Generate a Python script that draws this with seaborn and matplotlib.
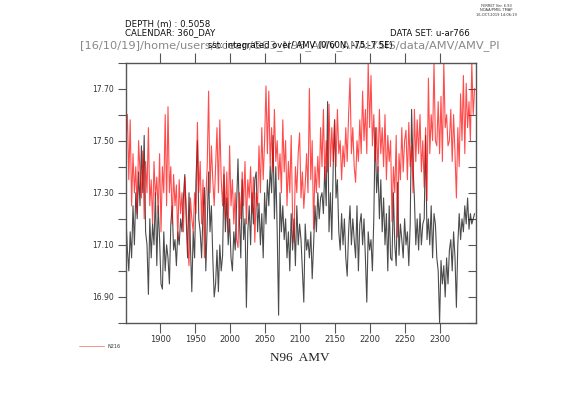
import numpy as np
import matplotlib
matplotlib.use("Agg")
import matplotlib.pyplot as plt
import seaborn as sns
from matplotlib.lines import Line2D

# two-yearly samples (1851..2349)
years = np.arange(1851, 2350, 2)

n216 = [
    17.50, 17.60, 17.35, 17.58, 17.25, 17.45, 17.30, 17.40, 17.22, 17.50,
    17.38, 17.28, 17.46, 17.20, 17.42, 17.30, 17.55, 17.25, 17.35, 17.18,
    17.42, 17.28, 17.36, 17.22, 17.45, 17.15, 17.40, 17.30, 17.60, 17.25,
    17.63, 17.30, 17.40, 17.18, 17.37, 17.25, 17.33, 17.12, 17.35, 17.22,
    17.30, 17.15, 17.36, 17.25, 17.10, 17.02, 17.28, 17.20, 17.15, 17.30,
    17.22, 17.57, 17.30, 17.42, 17.18, 17.35, 17.05, 17.28, 17.40, 17.69,
    17.30, 17.48, 17.35, 17.25, 17.40, 17.55, 17.30, 17.58, 17.35, 17.25,
    17.40, 17.20, 17.38, 17.15, 17.48, 17.25, 17.35, 17.18, 17.30, 17.12,
    17.09, 17.30, 17.20, 17.38, 17.25, 17.42, 17.18, 17.35, 17.28, 17.40,
    17.22, 17.36, 17.11, 17.30, 17.25, 17.48, 17.30, 17.55, 17.35, 17.50,
    17.71, 17.45, 17.69, 17.40, 17.55, 17.38, 17.62, 17.42, 17.50, 17.35,
    17.45, 17.30, 17.58, 17.38, 17.50, 17.25, 17.42, 17.30, 17.52, 17.20,
    17.11, 17.40, 17.30, 17.45, 17.53, 17.28, 17.38, 17.24, 17.33, 17.45,
    17.30, 17.70, 17.35, 17.50, 17.16, 17.40, 17.30, 17.44, 17.32, 17.55,
    17.40, 17.62, 17.35, 17.50, 17.38, 17.64, 17.40, 17.55, 17.42, 17.58,
    17.40, 17.62, 17.45, 17.50, 17.35, 17.48, 17.40, 17.55, 17.42, 17.60,
    17.74, 17.45, 17.55, 17.40, 17.34, 17.50, 17.42, 17.58, 17.45, 17.69,
    17.50, 17.62, 17.45, 17.80, 17.55, 17.75, 17.48, 17.60, 17.42, 17.55,
    17.38, 17.62, 17.45, 17.55, 17.40, 17.60, 17.35, 17.52, 17.42, 17.50,
    17.19, 17.40, 17.30, 17.52, 17.13, 17.45, 17.35, 17.55, 17.38, 17.50,
    17.54, 17.35, 17.57, 17.40, 17.48, 17.30, 17.62, 17.42, 17.58, 17.45,
    17.60, 17.38, 17.50, 17.32, 17.55, 17.27, 17.74, 17.45, 17.60, 17.50,
    17.80, 17.50, 17.48, 17.65, 17.45, 17.67, 17.42, 17.80, 17.55, 17.60,
    17.48, 17.50, 17.62, 17.42, 17.60, 17.45, 17.28, 17.55, 17.40, 17.68,
    17.50, 17.75, 17.45, 17.72, 17.55, 17.65, 17.50, 17.80, 17.60, 17.70,
]

n96 = [
    17.20, 17.08, 17.00, 17.15, 17.05, 17.25, 17.10, 17.30, 17.20, 17.38,
    17.25, 17.48, 17.30, 17.52, 17.15, 17.10, 16.91, 17.20, 17.05, 17.18,
    17.10, 17.30, 17.02, 17.25, 17.12, 16.95, 16.93, 17.15, 17.00, 17.10,
    17.05, 16.95, 17.18, 17.25, 17.08, 17.12, 17.02, 17.15, 17.10, 17.20,
    17.15, 17.28, 17.37, 17.20, 17.05, 17.30, 17.10, 16.92, 17.15, 17.05,
    17.35, 17.50, 17.20, 17.15, 17.05, 17.22, 17.32, 17.00, 17.18, 17.38,
    17.15, 17.25, 17.05, 16.90, 16.95, 17.08, 16.92, 17.10, 17.00, 17.06,
    17.37, 17.15, 17.28, 17.10, 17.20, 17.05, 17.00, 17.15, 17.08, 17.25,
    17.43, 17.20, 17.05, 17.35, 17.12, 17.20, 16.86, 17.15, 17.25, 17.10,
    17.30, 17.18, 17.35, 17.38, 17.15, 17.26, 17.10, 17.22, 17.05, 17.30,
    17.18, 17.35, 17.25, 17.40, 17.30, 17.52, 17.20, 17.40, 17.15, 16.83,
    17.30, 17.15, 17.25, 17.12, 17.20, 17.05, 17.15, 17.00, 17.22, 17.08,
    17.20, 17.02, 17.25, 17.10, 17.18, 17.12, 17.00, 16.88, 17.18, 17.08,
    17.12, 17.05, 17.15, 16.97, 17.10, 17.25, 17.15, 17.30, 17.20, 17.28,
    17.30, 17.22, 17.40, 17.25, 17.65, 17.15, 17.30, 17.12, 17.40, 17.58,
    17.28, 17.35, 17.15, 17.08, 17.22, 17.10, 17.20, 17.05, 16.98, 17.15,
    17.25, 17.10, 17.20, 17.12, 17.05, 17.25, 17.00, 17.18, 17.22, 17.10,
    17.20, 17.05, 16.88, 17.15, 17.08, 17.12, 17.00, 17.20, 17.55, 17.30,
    17.40, 17.20, 17.35, 17.15, 17.28, 17.10, 17.22, 17.00, 17.25, 17.05,
    17.04, 17.30, 17.10, 17.02, 17.34, 17.06, 17.18, 17.12, 17.05, 17.20,
    17.10, 17.15, 17.02, 17.18, 17.62, 17.40, 17.28, 17.10, 17.20, 17.08,
    17.22, 17.10, 17.18, 17.20, 17.52, 17.12, 17.20, 17.10, 17.25, 17.05,
    17.22, 17.18, 17.05, 17.00, 16.80, 17.04, 16.95, 17.02, 16.90, 17.05,
    16.95, 17.08, 17.12, 17.00, 17.15, 17.05, 16.86, 17.10, 17.22, 17.12,
    17.20, 17.15, 17.25, 17.18, 17.28, 17.16, 17.22, 17.18, 17.20, 17.22,
]

x_ticks = [1900, 1950, 2000, 2050, 2100, 2150, 2200, 2250, 2300]
y_labelled = [16.9, 17.1, 17.3, 17.5, 17.7]
y_unlabelled = [16.8, 17.0, 17.2, 17.4, 17.6, 17.8]

sns.set_theme(style="white")
plt.rcParams['font.family'] = ['DejaVu Sans']

fig = plt.figure(figsize=(5.61, 3.97), dpi=100)
ax = fig.add_axes([126 / 561, 1 - 323 / 397, 350 / 561, 260.5 / 397])

# black (N96) first, red (N216) overlaid
sns.lineplot(x=years, y=n96, color="black", lw=0.8, alpha=0.7, ax=ax)
sns.lineplot(x=years, y=n216, color="red", lw=0.8, alpha=0.7, ax=ax)

ax.set_xlim(1851, 2351)
ax.set_ylim(16.8, 17.8)

ax.set_xticks(x_ticks)
ax.set_xticklabels([str(t) for t in x_ticks])
ax.set_yticks(y_labelled)
ax.set_yticklabels(["%.2f" % v for v in y_labelled])
ax.set_yticks(y_unlabelled, minor=True)

for s in ax.spines.values():
    s.set_color("#555555")
    s.set_linewidth(1.0)

ax.tick_params(axis="x", which="major", direction="out", top=True, bottom=True,
               length=7, width=0.8, color="#555555", labelsize=6,
               labelcolor="#333333", pad=2)
ax.tick_params(axis="y", which="both", direction="out", left=True, right=False,
               length=6, width=0.8, color="#555555", labelsize=5.5,
               labelcolor="#333333", pad=3)

sec = ax.secondary_yaxis("right")
sec.set_yticks(y_labelled + y_unlabelled)
sec.set_yticklabels([])
sec.tick_params(direction="in", length=6, width=0.8, color="#555555")
sec.spines["right"].set_visible(False)

ax.set_xlabel("")
ax.set_ylabel("")

# header texts
fig.text(496 / 561, 1 - 4 / 397, "FERRET Ver. 6.93\nNOAA/PMEL TMAP\n16-OCT-2019 14:06:19",
         fontsize=2.6, ha="center", va="top", color="#333333", linespacing=1.1)
fig.text(125 / 561, 1 - 24 / 397, "DEPTH (m) : 0.5058", fontsize=6.2, va="center", color="#111111")
fig.text(125 / 561, 1 - 33 / 397, "CALENDAR: 360_DAY", fontsize=6.2, va="center", color="#111111")
fig.text(470 / 561, 1 - 33 / 397, "DATA SET: u-ar766", fontsize=6.2, va="center", ha="right", color="#111111")
fig.text(80 / 561, 1 - 46 / 397, "[16/10/19]/home/users/ocean/GC3_N96_AMV_ANALYSIS/data/AMV/AMV_PI",
         fontsize=8.2, va="center", ha="left", color="#888888")
fig.text(300 / 561, 1 - 46 / 397, "sst: integrated over/ AMV (0/60N, -75:-7.5E)",
         fontsize=6, va="center", ha="center", color="#000000")

# x label in a serif face
fig.text(300 / 561, 1 - 358 / 397, "N96  AMV", fontsize=9.5, ha="center", va="center",
         family=["Liberation Serif"], color="#222222")

# legend for the overlay
handle = Line2D([], [], color="red", lw=0.6, alpha=0.5)
ax.legend([handle], ["N216"], loc="center left", bbox_to_anchor=(75 / 561, 1 - 346 / 397),
          bbox_transform=fig.transFigure, frameon=False, fontsize=3.5,
          handlelength=5, handletextpad=0.8, labelcolor="#333333")

fig.savefig("out.png", dpi=100)
